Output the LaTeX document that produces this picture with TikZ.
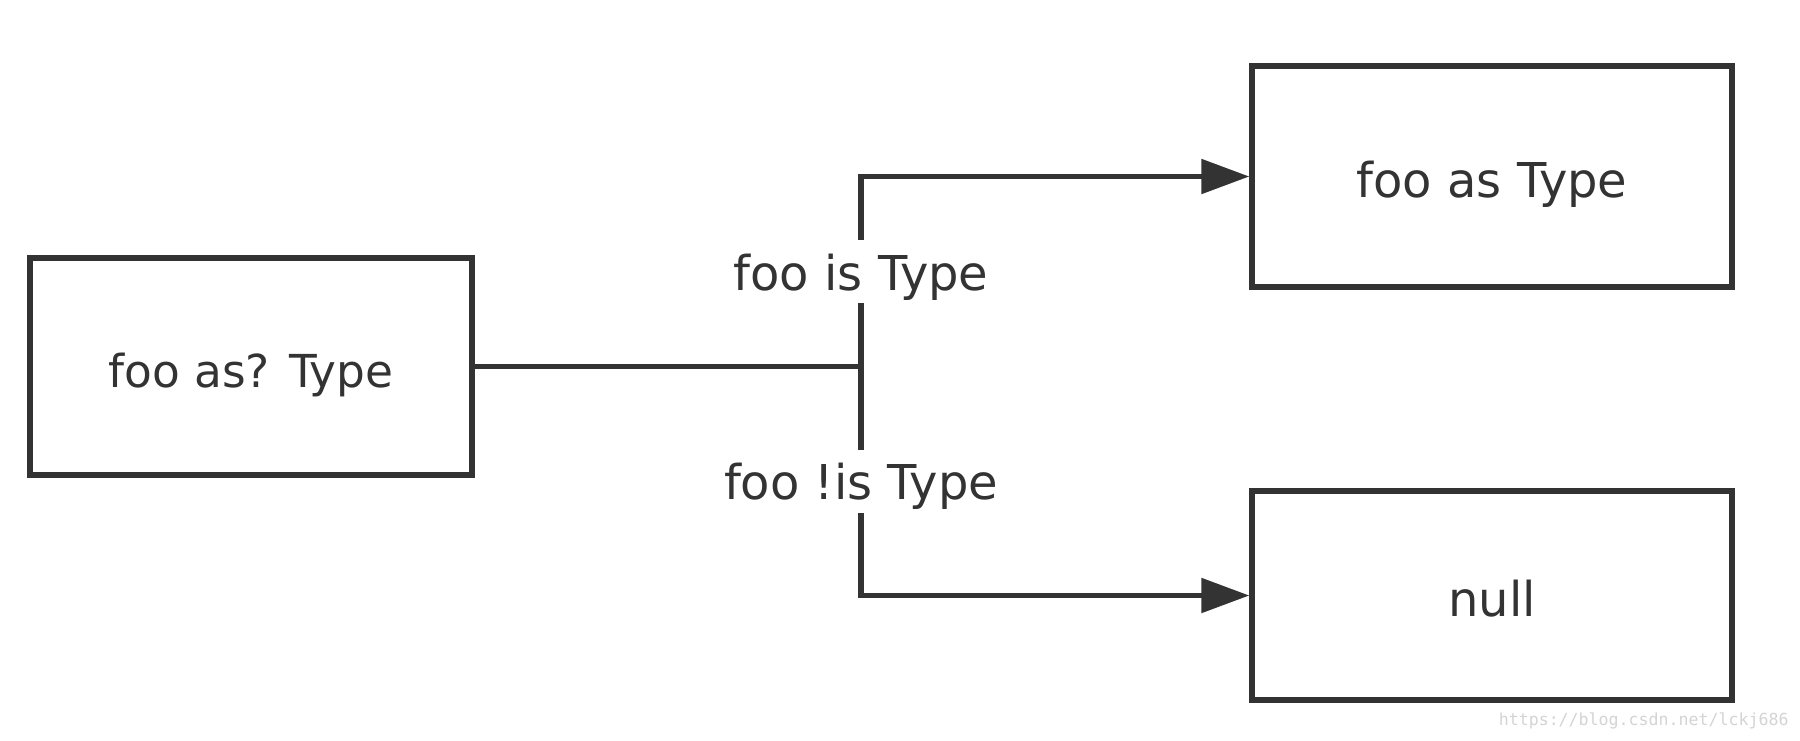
\documentclass[tikz,border=0pt]{standalone}
\usepackage{fontspec}
\setmainfont{DejaVu Sans}
\newfontfamily\urlfont{DejaVu Sans Mono}
\usetikzlibrary{arrows.meta}
\definecolor{ink}{HTML}{333333}
\definecolor{faint}{HTML}{D4D4D4}
\begin{document}
\begin{tikzpicture}[x=0.5pt,y=-0.5pt,
  box/.style={draw=ink,line width=2.7pt,fill=white,inner sep=0pt,
    text height=20.5pt,text depth=0pt,text=ink},
  wire/.style={draw=ink,line width=2.7pt},
  flow/.style={wire,-{Triangle[length=24pt,width=17pt]}},
  cond/.style={fill=white,inner xsep=3pt,inner ysep=6.5pt,
    text height=18.5pt,text depth=0pt,
    font=\fontsize{24}{28}\selectfont,text=ink}]
  \useasboundingbox (0,0) rectangle (1800,740);
  \fill[white] (0,0) rectangle (1800,740);

  % boxes
  \node[box,font=\fontsize{22.7}{27}\selectfont,minimum width=221pt,minimum height=108.5pt] (src) at (251,366.5) {foo as? Type};
  \node[box,font=\fontsize{24}{28}\selectfont,minimum width=240pt,minimum height=110.5pt] (cast) at (1492,176.5) {foo as Type};
  \node[box,font=\fontsize{24}{28}\selectfont,minimum width=240pt,minimum height=104.5pt] (nul) at (1492,595.5) {null};

  % branching connector
  \coordinate (fork) at (861,366.5);
  \draw[wire] (src.east) -- (fork);
  \draw[flow] (fork) |- (cast.west);
  \draw[flow] (fork) |- (nul.west);

  % branch conditions
  \node[cond] (yes) at (861,271.5) {foo is Type};
  \node[cond] (no) at (861,481) {foo !is Type};

  % source link
  \node[font=\urlfont\fontsize{8.3}{10}\selectfont,text=faint,anchor=east,inner sep=0pt] (url) at (1789,721) {https://blog.csdn.net/lckj686};
\end{tikzpicture}
\end{document}
